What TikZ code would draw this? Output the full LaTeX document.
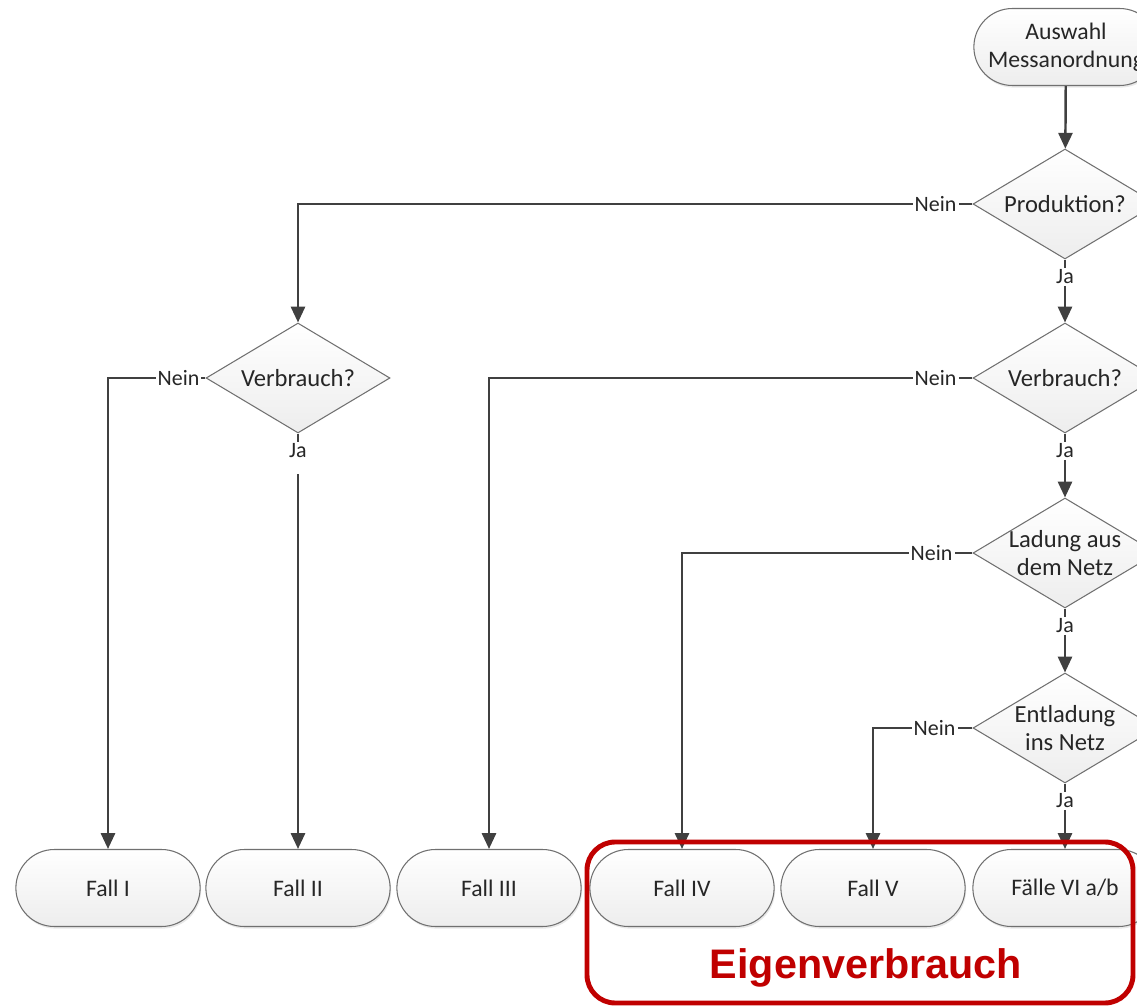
\documentclass[tikz,border=0pt]{standalone}
\usepackage{fontspec}
\setmainfont{Carlito}
\newfontfamily\arialfont{Liberation Sans}
\usetikzlibrary{shapes.geometric,shapes.misc,arrows.meta,positioning,shadows}
\definecolor{linegray}{HTML}{404040}
\definecolor{edgegray}{HTML}{707070}
\definecolor{textgray}{HTML}{262626}
\definecolor{boxred}{HTML}{C00000}
\begin{document}
\begin{tikzpicture}[x=0.02cm,y=-0.02cm,
  term/.style={rounded rectangle,draw=edgegray,line width=0.6pt,top color=white,bottom color=gray!14,
    minimum width=3.92cm,minimum height=1.54cm,text=textgray,
    font=\fontsize{13.5}{16}\selectfont,align=center,
    drop shadow={shadow xshift=0.6pt,shadow yshift=-1.2pt,opacity=0.18}},
  decision/.style={diamond,draw=edgegray,line width=0.6pt,top color=white,bottom color=gray!14,
    minimum width=3.68cm,minimum height=2.2cm,inner sep=0pt},
  qtext/.style={text=textgray,font=\fontsize{14}{16}\selectfont,align=center},
  lbl/.style={text=textgray,font=\fontsize{12.5}{14}\selectfont,inner sep=1pt},
  arr/.style={draw=linegray,line width=1.4pt,-{Triangle[length=9pt,width=8pt]}},
  con/.style={draw=linegray,line width=1.4pt}]
\clip (0,0) rectangle (1137,1007);
\node [term] (start) at (1066,47) {Auswahl\\Messanordnung};
\node [decision,label={[qtext]center:Produktion?}] (prod) at (1065,204) {};
\node [decision,label={[qtext]center:Verbrauch?}] (verb) at (1065,378) {};
\node [decision,label={[qtext]center:Ladung aus\\dem Netz}] (lad) at (1065,553) {};
\node [decision,label={[qtext]center:Entladung\\ins Netz}] (entl) at (1065,728) {};
\node [decision,label={[qtext]center:Verbrauch?}] (verbl) at (298,378) {};
\node [term] (f1) at (108,888) {Fall I};
\node [term] (f2) at (298,888) {Fall II};
\node [term] (f3) at (489,888) {Fall III};
\node [term] (f4) at (682,888) {Fall IV};
\node [term] (f5) at (873,888) {Fall V};
\node [term] (f6) at (1065,888) {Fälle VI a/b};
\node [lbl,left=0.28cm of prod] (n1) {Nein};
\node [lbl,left=0.28cm of verb] (n2) {Nein};
\node [lbl,left=0.36cm of lad] (n3) {Nein};
\node [lbl,left=0.3cm of entl] (n4) {Nein};
\node [lbl,left=0.08cm of verbl] (n5) {Nein};
\node [lbl,below=0.16cm of prod] (j1) {Ja};
\node [lbl,below=0.16cm of verb] (j2) {Ja};
\node [lbl,below=0.16cm of lad] (j3) {Ja};
\node [lbl,below=0.16cm of entl] (j4) {Ja};
\node [lbl,below=0.16cm of verbl] (j5) {Ja};
\draw [arr] (start) -- (prod);
\draw [con] (prod.west) -- (n1.east);
\draw [arr] (n1.west) -| (verbl.north);
\draw [con] (verb.west) -- (n2.east);
\draw [arr] (n2.west) -| (f3.north);
\draw [con] (lad.west) -- (n3.east);
\draw [arr] (n3.west) -| (f4.north);
\draw [con] (entl.west) -- (n4.east);
\draw [arr] (n4.west) -| (f5.north);
\draw [con] (verbl.west) -- (n5.east);
\draw [arr] (n5.west) -| (f1.north);
\draw [con] (prod.south) -- (j1.north);
\draw [arr] (j1.south) -- (verb.north);
\draw [con] (verb.south) -- (j2.north);
\draw [arr] (j2.south) -- (lad.north);
\draw [con] (lad.south) -- (j3.north);
\draw [arr] (j3.south) -- (entl.north);
\draw [con] (entl.south) -- (j4.north);
\draw [arr] (j4.south) -- (f6.north);
\draw [con] (verbl.south) -- (j5.north);
\draw [arr,shorten <=8pt] (j5.south) -- (f2.north);
\draw [boxred,line width=2.8pt,rounded corners=16pt] (587,842) rectangle (1133,1003);
\node [anchor=base,text=boxred,font=\arialfont\bfseries\fontsize{23.5}{28}\selectfont] (eig) at (866,978) {Eigenverbrauch};
\end{tikzpicture}
\end{document}
